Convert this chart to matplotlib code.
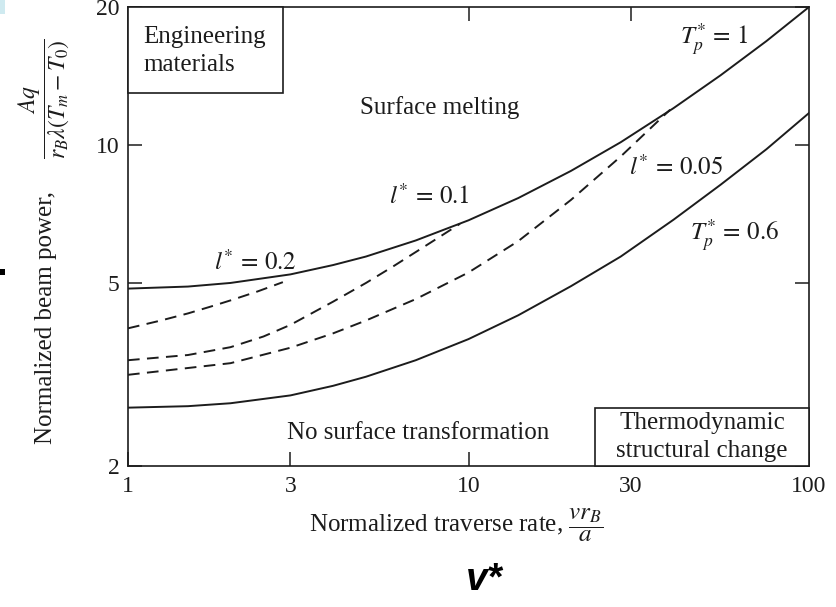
import matplotlib
matplotlib.use("Agg")
import matplotlib.pyplot as plt
from matplotlib.patches import Rectangle
from matplotlib.ticker import FixedLocator, NullLocator, FixedFormatter

# ---- data ----
top_v = [1, 1.5, 2, 3, 4, 5, 7, 10, 14, 20, 28, 40, 55, 75, 100]
top_y = [4.87, 4.92, 5.01, 5.23, 5.48, 5.72, 6.20, 6.86, 7.67, 8.79, 10.15, 12.04, 14.2, 16.86, 20.0]

bot_v = [1, 1.5, 2, 3, 4, 5, 7, 10, 14, 20, 28, 40, 55, 75, 100]
bot_y = [2.68, 2.70, 2.74, 2.85, 2.99, 3.13, 3.40, 3.78, 4.26, 4.93, 5.72, 6.88, 8.2, 9.8, 11.75]

l02_v = [1, 1.25, 1.5, 1.75, 2, 2.4, 2.85]
l02_y = [3.99, 4.15, 4.30, 4.45, 4.59, 4.80, 5.03]

l01_v = [1, 1.5, 2, 2.5, 3, 4, 5, 6, 7, 8, 9.44]
l01_y = [3.40, 3.49, 3.63, 3.83, 4.06, 4.56, 5.01, 5.44, 5.85, 6.23, 6.74]

l005_v = [1, 2, 3, 4, 5, 7, 10, 14, 20, 28, 39.1]
l005_y = [3.16, 3.35, 3.62, 3.89, 4.15, 4.62, 5.28, 6.18, 7.60, 9.45, 11.95]

curve_labels = [r'$l^{*}\,=\,0.2$', r'$l^{*}\,=\,0.1$', r'$l^{*}\,=\,0.05$',
                r'$T_p^{*}\,=\,1$', r'$T_p^{*}\,=\,0.6$']
label_v = [2.36, 7.66, 40.7, 52.6, 60.6]
label_y = [5.56, 7.72, 8.95, 17.0, 6.38]

x_ticks = [1, 3, 10, 30, 100]
x_ticklabels = ["1", "3", "10", "30", "100"]
y_ticks = [2, 5, 10, 20]
y_ticklabels = ["2", "5", "10", "20"]

# ---- style ----
plt.rcParams['font.family'] = ['Liberation Serif', 'DejaVu Serif']
plt.rcParams['mathtext.fontset'] = 'stix'
INK = '#1c1c1c'

W, H = 836, 607
AX_L, AX_R, AX_T, AX_B = 128, 809, 7, 466
AW, AH = AX_R - AX_L, AX_B - AX_T


def axpos(px, py):
    """pixel position of the reference -> axes fraction"""
    return (px - AX_L) / AW, 1 - (py - AX_T) / AH


fig = plt.figure(figsize=(W / 100, H / 100), dpi=100)
ax = fig.add_axes([AX_L / W, 1 - AX_B / H, AW / W, AH / H])
ax.set_xscale('log')
ax.set_yscale('log')
ax.set_xlim(1, 100)
ax.set_ylim(2, 20)

lw = 1.4
ax.plot(top_v, top_y, color=INK, lw=lw, solid_joinstyle='round')
ax.plot(bot_v, bot_y, color=INK, lw=lw, solid_joinstyle='round')
for xv, yv in [(l02_v, l02_y), (l01_v, l01_y), (l005_v, l005_y)]:
    ln, = ax.plot(xv, yv, color=INK, lw=lw)
    ln.set_dashes((6.0, 3.8))

# ticks
ax.xaxis.set_major_locator(FixedLocator(x_ticks))
ax.xaxis.set_major_formatter(FixedFormatter(x_ticklabels))
ax.xaxis.set_minor_locator(NullLocator())
ax.yaxis.set_major_locator(FixedLocator(y_ticks))
ax.yaxis.set_major_formatter(FixedFormatter(y_ticklabels))
ax.yaxis.set_minor_locator(NullLocator())
ax.tick_params(which='major', direction='in', length=10, width=1.1, color=INK,
               labelsize=17, labelcolor=INK, right=True, pad=6)
ax.tick_params(axis='x', pad=7)
for s in ax.spines.values():
    s.set_linewidth(1.2)
    s.set_color(INK)

sec = ax.secondary_xaxis('top')
sec.xaxis.set_major_locator(FixedLocator([10, 30]))
sec.xaxis.set_minor_locator(NullLocator())
sec.tick_params(direction='in', length=10, width=1.1, color=INK, labeltop=False)
sec.spines['top'].set_visible(False)

# boxes
ax.add_patch(Rectangle((0, 1 - 86 / AH), 155 / AW, 86 / AH, transform=ax.transAxes,
                       fill=True, facecolor='white', edgecolor=INK, lw=1.2, zorder=5,
                       clip_on=False))
ax.text(*axpos(143, 51), "Engineering\nmaterials", transform=ax.transAxes,
        ha='left', va='center', fontsize=18, color=INK, linespacing=1.4, zorder=6)

ax.add_patch(Rectangle((467 / AW, 0), 214 / AW, 58 / AH, transform=ax.transAxes,
                       fill=True, facecolor='white', edgecolor=INK, lw=1.2, zorder=5,
                       clip_on=False))
ax.text(*axpos(702, 437), "Thermodynamic\nstructural change", transform=ax.transAxes,
        ha='center', va='center', fontsize=18, color=INK, linespacing=1.4, zorder=6)

# region labels
ax.text(*axpos(440, 108), "Surface melting", transform=ax.transAxes,
        ha='center', va='center', fontsize=18, color=INK)
ax.text(*axpos(418, 433), "No surface transformation", transform=ax.transAxes,
        ha='center', va='center', fontsize=18, color=INK)

# curve labels (data coordinates, next to their curves)
for s, xv, yv in zip(curve_labels, label_v, label_y):
    ax.text(xv, yv, s, ha='center', va='center', fontsize=18, color=INK)

# axis labels
fig.text(46 / W, 1 - 318 / H, 'Normalized beam power,', rotation=90,
         ha='center', va='center', fontsize=18, color=INK)
fig.text(44 / W, 1 - 99 / H, r'$\dfrac{Aq}{r_B\lambda(T_m - T_0)}$', rotation=90,
         ha='center', va='center', fontsize=17, color=INK)
fig.text(456 / W, 1 - 525 / H,
         r'Normalized traverse rate, $\dfrac{vr_B}{a}$',
         ha='center', va='center', fontsize=18, color=INK)
fig.text(484 / W, 1 - 580 / H, 'v*', family='Liberation Sans', fontweight='bold',
         fontstyle='italic', fontsize=28, ha='center', va='center', color='black')

# small scan artifacts at the left edge
fig.patches.append(Rectangle((0, 1 - 14 / H), 5 / W, 14 / H, transform=fig.transFigure,
                             facecolor='#cfeaf0', edgecolor='none'))
fig.patches.append(Rectangle((0, 1 - 275 / H), 5 / W, 6 / H, transform=fig.transFigure,
                             facecolor='black', edgecolor='none'))

fig.savefig('out.png', dpi=100)
